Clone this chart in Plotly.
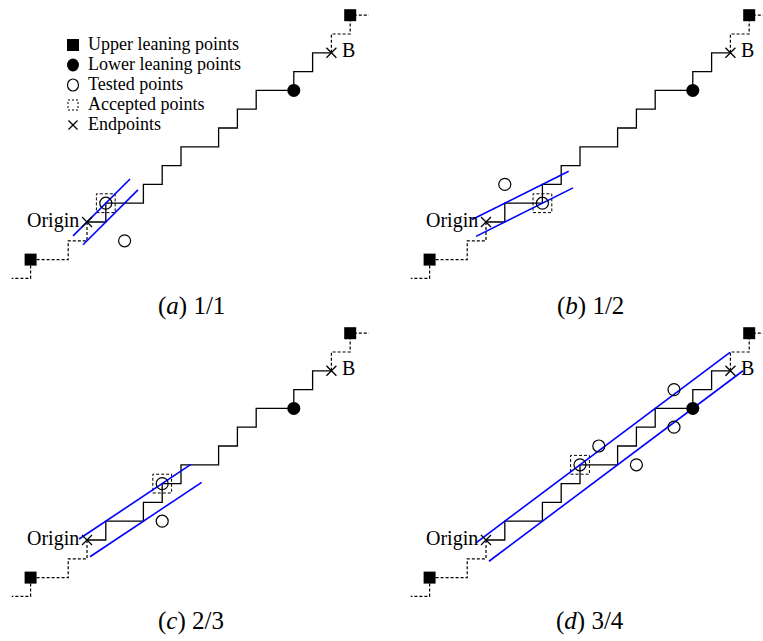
import plotly.graph_objects as go

# ---------------- data (grid units of the digital plane) ----------------
caption_letters = ["a", "b", "c", "d"]
caption_ratios = ["1/1", "1/2", "2/3", "3/4"]

# slope a/b of the recognised segment and the two bounding lines  b*y = a*x + offset
slope_num = [1, 1, 2, 3]
slope_den = [1, 2, 3, 4]
upper_offset = [0, 1, 1, 1]
lower_offset = [-1, -1, -3, -5]
upper_x_from = [-0.74, -0.74, -0.42, -0.53]
upper_x_to = [2.29, 4.40, 5.53, 12.98]
lower_x_from = [-0.21, -0.53, 0.16, 0.16]
lower_x_to = [2.71, 4.63, 6.10, 13.67]

# staircase (digital curve) from Origin to B
stair_x = [0, 1, 1, 3, 3, 4, 4, 5, 5, 7, 7, 8, 8, 9, 9, 11, 11, 12, 12, 13]
stair_y = [0, 0, 1, 1, 2, 2, 3, 3, 4, 4, 5, 5, 6, 6, 7, 7, 8, 8, 9, 9]
# dotted continuation before Origin and after B
tail_low_x = [0, 0, -1, -1, -3, -3, -4]
tail_low_y = [0, -1, -1, -2, -2, -3, -3]
tail_high_x = [13, 13, 14, 14, 15]
tail_high_y = [9, 10, 10, 11, 11]

upper_lean_x = [-3, 14]
upper_lean_y = [-2, 11]
lower_lean_x = [11]
lower_lean_y = [7]
end_x = [0, 13]
end_y = [0, 9]
end_labels = ["Origin", "B"]

tested_x = [[2], [1], [4], [6, 8, 10, 10]]
tested_y = [[-1], [2], [1], [5, 4, 8, 6]]
accepted_x = [1, 3, 4, 5]
accepted_y = [1, 1, 3, 4]

legend_labels = ["Upper leaning points", "Lower leaning points", "Tested points",
                 "Accepted points", "Endpoints"]

# ---------------- layout / style ----------------
W, H = 763, 641
U = 18.8  # pixels per grid unit
panel_boxes = [(0, 370, 0, 292), (390, 763, 0, 292), (0, 370, 318, 612), (390, 763, 318, 612)]
origins_px = [(87, 222), (486, 222), (87, 540), (486, 540)]
caption_px = [(191, 306), (590, 306), (191, 621), (590, 621)]
SERIF = "Liberation Serif, Times New Roman, serif"
DOT = "3px,2px"
HALF = 0.5  # half side of the accepted-point square (one pixel cell)

fig = go.Figure()
layout_axes = {}
annotations = []

for i in range(4):
    xa = "x" if i == 0 else f"x{i+1}"
    ya = "y" if i == 0 else f"y{i+1}"
    L, R, T, B = panel_boxes[i]
    ox, oy = origins_px[i]
    layout_axes["xaxis" if i == 0 else f"xaxis{i+1}"] = dict(
        domain=[L / W, R / W], range=[(L - ox) / U, (R - ox) / U], visible=False,
        anchor=ya, fixedrange=True)
    layout_axes["yaxis" if i == 0 else f"yaxis{i+1}"] = dict(
        domain=[1 - B / H, 1 - T / H], range=[(oy - B) / U, (oy - T) / U], visible=False,
        anchor=xa, fixedrange=True)

    # dotted tails
    for tx, ty in ((tail_low_x, tail_low_y), (tail_high_x, tail_high_y)):
        fig.add_trace(go.Scatter(x=tx, y=ty, mode="lines", xaxis=xa, yaxis=ya,
                                 line=dict(color="black", width=1.2, dash=DOT), hoverinfo="skip"))
    # solid staircase
    fig.add_trace(go.Scatter(x=stair_x, y=stair_y, mode="lines", xaxis=xa, yaxis=ya,
                             line=dict(color="black", width=1.3), hoverinfo="skip"))
    # accepted point dotted square
    ax_, ay_ = accepted_x[i], accepted_y[i]
    fig.add_trace(go.Scatter(x=[ax_ - HALF, ax_ + HALF, ax_ + HALF, ax_ - HALF, ax_ - HALF],
                             y=[ay_ - HALF, ay_ - HALF, ay_ + HALF, ay_ + HALF, ay_ - HALF],
                             mode="lines", xaxis=xa, yaxis=ya,
                             line=dict(color="black", width=1.0, dash=DOT), hoverinfo="skip"))
    # bounding blue lines
    a, b = slope_num[i], slope_den[i]
    for x0, x1, off in ((upper_x_from[i], upper_x_to[i], upper_offset[i]),
                        (lower_x_from[i], lower_x_to[i], lower_offset[i])):
        fig.add_trace(go.Scatter(x=[x0, x1], y=[(a * x0 + off) / b, (a * x1 + off) / b],
                                 mode="lines", xaxis=xa, yaxis=ya,
                                 line=dict(color="#0000ff", width=1.6), hoverinfo="skip"))
    # tested points (incl. accepted one)
    fig.add_trace(go.Scatter(x=tested_x[i] + [ax_], y=tested_y[i] + [ay_], mode="markers",
                             xaxis=xa, yaxis=ya, cliponaxis=False,
                             marker=dict(symbol="circle-open", size=12, color="black",
                                         line=dict(width=1.2, color="black")), hoverinfo="skip"))
    # leaning points
    fig.add_trace(go.Scatter(x=upper_lean_x, y=upper_lean_y, mode="markers", xaxis=xa, yaxis=ya,
                             cliponaxis=False,
                             marker=dict(symbol="square", size=12, color="black"), hoverinfo="skip"))
    fig.add_trace(go.Scatter(x=lower_lean_x, y=lower_lean_y, mode="markers", xaxis=xa, yaxis=ya,
                             cliponaxis=False,
                             marker=dict(symbol="circle", size=13, color="black"), hoverinfo="skip"))
    # endpoints
    fig.add_trace(go.Scatter(x=end_x, y=end_y, mode="markers", xaxis=xa, yaxis=ya,
                             cliponaxis=False,
                             marker=dict(symbol="x-thin", size=10, color="black",
                                         line=dict(width=1.3, color="black")), hoverinfo="skip"))
    annotations.append(dict(x=end_x[0], y=end_y[0], xref=xa, yref=ya, text=end_labels[0],
                            showarrow=False, xanchor="right", yanchor="middle", xshift=-6, yshift=2,
                            font=dict(family=SERIF, size=20, color="black")))
    annotations.append(dict(x=end_x[1], y=end_y[1], xref=xa, yref=ya, text=end_labels[1],
                            showarrow=False, xanchor="left", yanchor="middle", xshift=9, yshift=3,
                            font=dict(family=SERIF, size=20, color="black")))
    # caption
    cx, cy = caption_px[i]
    annotations.append(dict(x=cx / W, y=1 - cy / H, xref="paper", yref="paper",
                            text=f"(<i>{caption_letters[i]}</i>)&nbsp;{caption_ratios[i]}",
                            showarrow=False, xanchor="center", yanchor="middle",
                            font=dict(family=SERIF, size=25, color="black")))

# ---------------- legend (drawn in panel a) ----------------
shapes = []
leg_x, leg_y0, leg_dy, leg_tx = 73, 45, 20, 87
kinds = ["square", "disc", "ring", "dotted", "cross"]
for k, (kind, lab) in enumerate(zip(kinds, legend_labels)):
    py = leg_y0 + k * leg_dy
    xa_, ya_ = leg_x / W, 1 - py / H
    base = dict(xref="paper", yref="paper", xsizemode="pixel", ysizemode="pixel",
                xanchor=xa_, yanchor=ya_)
    if kind == "square":
        shapes.append(dict(type="rect", x0=-6, x1=6, y0=-6, y1=6, fillcolor="black",
                           line=dict(width=0), **base))
    elif kind == "disc":
        shapes.append(dict(type="circle", x0=-6, x1=6, y0=-6.5, y1=6.5, fillcolor="black",
                           line=dict(width=0), **base))
    elif kind == "ring":
        shapes.append(dict(type="circle", x0=-5.5, x1=5.5, y0=-6, y1=6,
                           line=dict(width=1.2, color="black"), **base))
    elif kind == "dotted":
        shapes.append(dict(type="rect", x0=-5, x1=5, y0=-5, y1=5,
                           line=dict(width=1.0, color="black", dash="2px,2px"), **base))
    else:
        shapes.append(dict(type="line", x0=-4.5, x1=4.5, y0=-4.5, y1=4.5,
                           line=dict(width=1.2, color="black"), **base))
        shapes.append(dict(type="line", x0=-4.5, x1=4.5, y0=4.5, y1=-4.5,
                           line=dict(width=1.2, color="black"), **base))
    annotations.append(dict(x=leg_tx / W, y=ya_, xref="paper", yref="paper", text=lab,
                            showarrow=False, xanchor="left", yanchor="middle", yshift=1,
                            borderpad=0,
                            font=dict(family=SERIF, size=18, color="black")))

fig.update_layout(width=W, height=H, margin=dict(l=0, r=0, t=0, b=0, pad=0),
                  paper_bgcolor="white", plot_bgcolor="white", showlegend=False,
                  annotations=annotations, shapes=shapes, **layout_axes)

fig.write_html("out.html", config={"displayModeBar": False},
               post_script="document.body.style.margin='0px';")
